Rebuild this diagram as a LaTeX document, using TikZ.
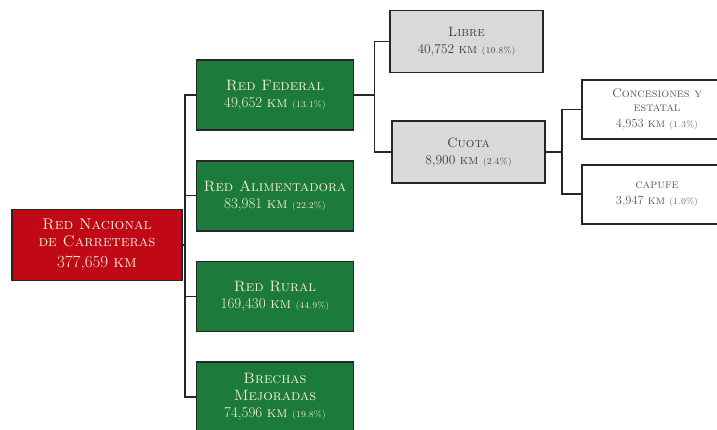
\documentclass[tikz,border=0pt]{standalone}
\usetikzlibrary{positioning}
\definecolor{rojo}{RGB}{192,8,22}
\definecolor{verde}{RGB}{28,122,58}
\definecolor{gris}{RGB}{217,217,217}
\definecolor{crema}{RGB}{242,238,220}
\newcommand{\pct}[1]{{\fontsize{9}{10}\selectfont\textsc{(#1\%)}}}

\begin{document}
\begin{tikzpicture}[x=1pt,y=1pt,node distance=29pt]
\tikzstyle{every node}=[align=center,inner sep=2pt]
\tikzstyle{box}=[draw=black!85,line width=1.7pt,font=\fontsize{15}{17}\selectfont]
\tikzstyle{raiz}=[box,fill=rojo,text=crema,minimum width=170pt,minimum height=71pt,font=\fontsize{15.5}{17}\selectfont]
\tikzstyle{rama}=[box,fill=verde,text=crema,minimum width=157pt,minimum height=70pt]
\tikzstyle{tipo}=[box,fill=gris,text=black!75,minimum width=153pt,minimum height=62pt,font=\fontsize{13.5}{17}\selectfont]
\tikzstyle{hoja}=[box,fill=white,text=black!65,minimum width=150pt,minimum height=59pt,font=\fontsize{12.5}{13.5}\selectfont]
\tikzstyle{liga}=[line width=1.5pt,draw=black!85]

\useasboundingbox (0,0) rectangle (717,429);

\node[raiz] (RN) at (97,184) {\textsc{Red Nacional}\\\textsc{de Carreteras}\\[4pt]{\fontsize{17}{18}\selectfont 377,659 \textsc{km}}};
\node[rama] (RF) at (275,334) {\textsc{Red Federal}\\49,652 \textsc{km} \pct{13.1}};
\node[rama,below=of RF] (RA) {\textsc{Red Alimentadora}\\83,981 \textsc{km} \pct{22.2}};
\node[rama,below=of RA] (RR) {\textsc{Red Rural}\\169,430 \textsc{km} \pct{44.9}};
\node[rama,below=of RR] (BM) {\textsc{Brechas}\\\textsc{Mejoradas}\\74,596 \textsc{km} \pct{19.8}};

\node[tipo] (LI) at (466.5,387.5) {\textsc{Libre}\\40,752 \textsc{km} \pct{10.8}};
\node[tipo,below=47pt of LI,xshift=2pt] (CU) {\textsc{Cuota}\\8,900 \textsc{km} \pct{2.4}};

\node[hoja] (CE) at (657,319.5) {\textsc{Concesiones y}\\\textsc{estatal}\\[3pt]4,953 \textsc{km} \pct{1.3}};
\node[hoja,below=24pt of CE] (CP) {\textsc{capufe}\\[3pt]3,947 \textsc{km} \pct{1.0}};

% conectores
\draw[liga] (RN.east) -- ++(2,0) coordinate (tronco);
\foreach \n in {RF,RA,RR,BM} \draw[liga] (tronco) |- (\n.west);
\draw[liga] (RF.east) -- ++(20,0) coordinate (fed);
\foreach \n in {LI,CU} \draw[liga] (fed) |- (\n.west);
\draw[liga] (CU.east) -- ++(16,0) coordinate (cuo);
\foreach \n in {CE,CP} \draw[liga] (cuo) |- (\n.west);
\end{tikzpicture}
\end{document}
